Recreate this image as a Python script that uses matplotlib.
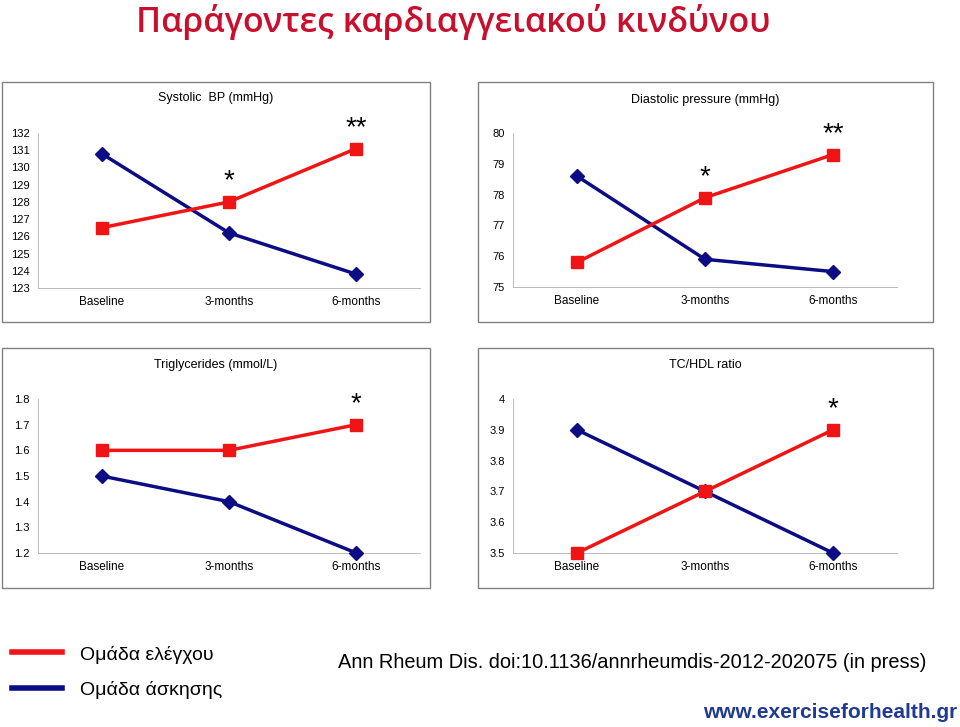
import matplotlib
matplotlib.use("Agg")
import matplotlib.pyplot as plt
from matplotlib.patches import Rectangle

W, H = 960, 727
RED = "#F01414"
BLUE = "#0C0C84"

categories = ["Baseline", "3-months", "6-months"]

sbp_control = [126.5, 128.0, 131.1]
sbp_exercise = [130.8, 126.2, 123.8]
dbp_control = [75.8, 77.9, 79.3]
dbp_exercise = [78.6, 75.9, 75.5]
tg_control = [1.6, 1.6, 1.7]
tg_exercise = [1.5, 1.4, 1.2]
ratio_control = [3.5, 3.7, 3.9]
ratio_exercise = [3.9, 3.7, 3.5]

panels = [
    # title, control, exercise, ylim, yticks, tick labels, stars
    ("Systolic  BP (mmHg)", sbp_control, sbp_exercise, (123, 132),
     list(range(123, 133)), [str(v) for v in range(123, 133)], ["", "*", "**"]),
    ("Diastolic pressure (mmHg)", dbp_control, dbp_exercise, (75, 80),
     list(range(75, 81)), [str(v) for v in range(75, 81)], ["", "*", "**"]),
    ("Triglycerides (mmol/L)", tg_control, tg_exercise, (1.2, 1.8),
     [1.2, 1.3, 1.4, 1.5, 1.6, 1.7, 1.8], ["1.2", "1.3", "1.4", "1.5", "1.6", "1.7", "1.8"], ["", "", "*"]),
    ("TC/HDL ratio", ratio_control, ratio_exercise, (3.5, 4.0),
     [3.5, 3.6, 3.7, 3.8, 3.9, 4.0], ["3.5", "3.6", "3.7", "3.8", "3.9", "4"], ["", "", "*"]),
]

# pixel layout: box (x0, y0, x1, y1), plot area (x0, y0, x1, y1), title y
layout = [
    ((2, 82, 430, 322), (38, 133, 420, 288), 98),
    ((478, 82, 933, 322), (513, 133, 897, 287), 100),
    ((2, 348, 430, 588), (38, 399, 420, 553), 365),
    ((478, 348, 933, 588), (513, 399, 897, 553), 365),
]


def fx(x):
    return x / W


def fy(y):
    return 1 - y / H


fig = plt.figure(figsize=(W / 100, H / 100), dpi=100)
plt.rcParams["font.family"] = "Liberation Sans"

fig.text(fx(453), fy(22), "Παράγοντες καρδιαγγειακού κινδύνου", color="#C8102E",
         fontsize=24.5, fontweight="semibold", ha="center", va="center", fontfamily="Open Sans")

for (title, ctrl, exer, ylim, yt, ytl, stars), (box, area, ty) in zip(panels, layout):
    fig.patches.append(Rectangle((fx(box[0]), fy(box[3])), fx(box[2] - box[0]),
                                 (box[3] - box[1]) / H, transform=fig.transFigure,
                                 fill=False, edgecolor="#808080", linewidth=1))
    ax = fig.add_axes([fx(area[0]), fy(area[3]), fx(area[2] - area[0]), (area[3] - area[1]) / H])
    x = range(len(categories))
    ax.plot(x, exer, color=BLUE, linewidth=2.5, marker="D", markersize=7, zorder=3, clip_on=False)
    ax.plot(x, ctrl, color=RED, linewidth=2.5, marker="s", markersize=8, zorder=4, clip_on=False)
    span = ylim[1] - ylim[0]
    for i, s in enumerate(stars):
        if s:
            ax.text(i, ctrl[i] + span * 0.05, s, ha="center", va="bottom", fontsize=20)
    ax.set_xlim(-0.5, 2.5)
    ax.set_ylim(*ylim)
    ax.set_yticks(yt)
    ax.set_yticklabels(ytl, fontsize=8)
    ax.set_xticks(list(x))
    ax.set_xticklabels(categories, fontsize=8.5)
    ax.tick_params(axis="both", length=0, pad=6)
    for side in ["top", "right"]:
        ax.spines[side].set_visible(False)
    for side in ["left", "bottom"]:
        ax.spines[side].set_color("#B0B0B0")
        ax.spines[side].set_linewidth(0.6)
    ax.patch.set_alpha(0)
    fig.text(fx((box[0] + box[2]) / 2), fy(ty), title, ha="center", va="center", fontsize=9)

# legend
fig.add_artist(plt.Line2D([fx(12), fx(62)], [fy(652), fy(652)], color=RED, linewidth=4))
fig.add_artist(plt.Line2D([fx(12), fx(62)], [fy(688), fy(688)], color=BLUE, linewidth=4))
fig.text(fx(80), fy(655), "Ομάδα ελέγχου", fontsize=14, va="center")
fig.text(fx(80), fy(690), "Ομάδα άσκησης", fontsize=14, va="center")
fig.text(fx(338), fy(662), "Ann Rheum Dis. doi:10.1136/annrheumdis-2012-202075 (in press)",
         fontsize=14.4, va="center")
fig.text(fx(957), fy(713), "www.exerciseforhealth.gr", fontsize=15, fontweight="bold",
         color="#1F3A93", ha="right", va="center")

fig.savefig("out.png", dpi=100)
